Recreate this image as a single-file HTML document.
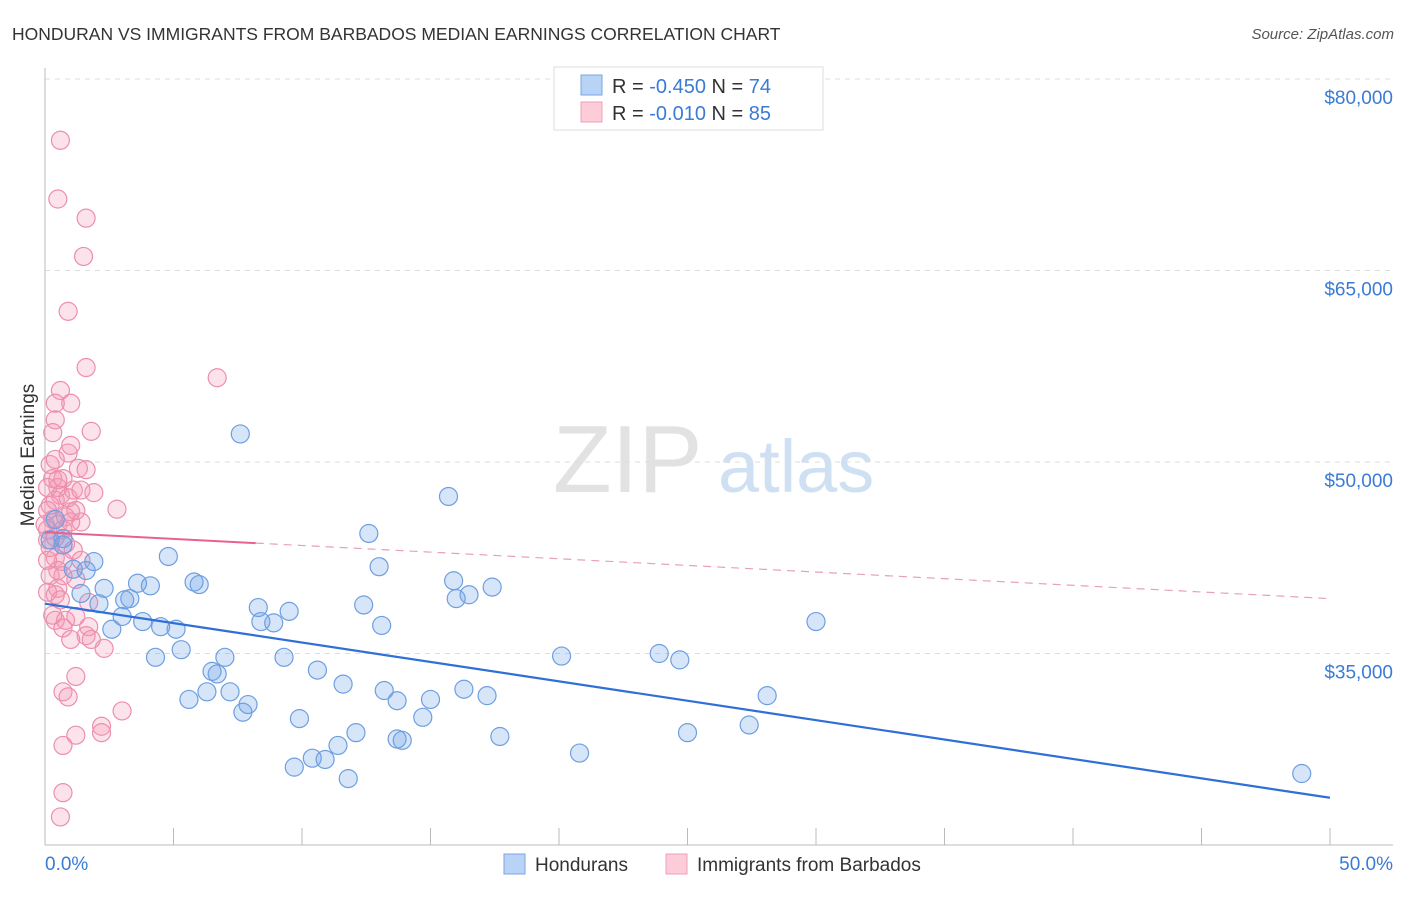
<!DOCTYPE html>
<html><head><meta charset="utf-8"><style>
body{margin:0;background:#fff;font-family:"Liberation Sans",sans-serif;}
svg text{font-family:"Liberation Sans",sans-serif;}
</style></head><body>
<svg id="c" width="1406" height="892" viewBox="0 0 1406 892">
<text x="12" y="40" font-size="17.5" fill="#333">HONDURAN VS IMMIGRANTS FROM BARBADOS MEDIAN EARNINGS CORRELATION CHART</text>
<text x="1394" y="39" font-size="15" fill="#555" font-style="italic" text-anchor="end">Source: ZipAtlas.com</text>
<g>
<text x="553" y="492" font-family="Liberation Serif,serif" font-size="96" fill="#e2e2e2">ZIP</text>
<text x="718" y="492" font-size="74" fill="#cfe0f3">atlas</text>
</g>
<g id="grid"></g>
<g id="axes"></g>
<g id="pts"></g>
<g id="trend"></g>
<text transform="translate(34,455) rotate(-90)" font-size="19" fill="#333" text-anchor="middle">Median Earnings</text>
<g>
<rect x="554" y="67" width="269" height="63" fill="#fff" stroke="#ddd"/>
<rect x="581" y="75" width="21" height="20" fill="#b8d3f5" stroke="#7aa6e3"/>
<text x="612" y="93" font-size="20" fill="#333">R = <tspan fill="#3a7bd5">-0.450</tspan>   N = <tspan fill="#3a7bd5">74</tspan></text>
<rect x="581" y="102" width="21" height="20" fill="#fcccd9" stroke="#eba0b8"/>
<text x="612" y="120" font-size="20" fill="#333">R =  <tspan fill="#3a7bd5">-0.010</tspan>   N = <tspan fill="#3a7bd5">85</tspan></text>
</g>
<g>
<rect x="504" y="854" width="21" height="20" fill="#b8d3f5" stroke="#7aa6e3"/>
<text x="535" y="871" font-size="19" fill="#333">Hondurans</text>
<rect x="666" y="854" width="21" height="20" fill="#fcccd9" stroke="#eba0b8"/>
<text x="697" y="871" font-size="19" fill="#333">Immigrants from Barbados</text>
</g>
</svg>
<script>
const xTicks=[0,5,10,15,20,25,30,35,40,45,50];
const yTicks=[35000,50000,65000,80000];
const yTickLabels=["$35,000","$50,000","$65,000","$80,000"];
const hondX=[7.6,15.7,12.6,4.8,1.9,1.6,1.1,0.7,13.0,15.9,17.4,5.8,6.0,3.6,2.3,4.1,16.0,16.5,3.3,3.1,1.4,2.1,8.3,9.5,12.4,3.0,3.8,8.4,8.9,4.5,5.1,2.6,13.1,30.0,5.3,7.0,4.3,9.3,20.1,23.9,24.7,10.6,6.5,6.7,11.6,6.3,7.2,13.2,16.3,17.2,28.1,13.7,15.0,5.6,7.9,7.7,9.9,14.7,12.1,27.4,25.0,17.7,13.9,13.7,11.4,10.4,10.9,9.7,20.8,11.8,48.9,0.7,0.4,0.2];
const hondY=[52.2,47.3,44.4,42.6,42.2,41.5,41.6,44.0,41.8,40.7,40.2,40.6,40.4,40.5,40.1,40.3,39.3,39.6,39.3,39.2,39.7,38.9,38.6,38.3,38.8,37.9,37.5,37.5,37.4,37.1,36.9,36.9,37.2,37.5,35.3,34.7,34.7,34.7,34.8,35.0,34.5,33.7,33.6,33.4,32.6,32.0,32.0,32.1,32.2,31.7,31.7,31.3,31.4,31.4,31.0,30.4,29.9,30.0,28.8,29.4,28.8,28.5,28.2,28.3,27.8,26.8,26.7,26.1,27.2,25.2,25.6,43.5,45.5,43.9];
const barbX=[0.6,0.5,1.6,1.5,0.9,1.6,6.7,0.6,1.0,0.4,0.4,1.8,0.3,0.9,1.3,0.3,2.8,1.9,1.1,0.5,0.6,0.4,0.9,0.2,0.8,1.0,0.3,0.5,1.4,0.7,0.1,0.4,0.8,0.2,1.1,0.4,0.7,1.4,0.5,0.2,0.7,1.2,0.5,1.7,0.6,0.1,0.4,0.8,1.2,0.7,1.7,1.6,2.3,1.2,0.7,0.9,3.0,2.2,2.2,0.7,1.2,0.7,0.6,0.1,0.2,0.1,0.7,0.1,1.0,1.4,0.1,1.6,0.4,1.0,0.3,0.4,1.8,1.0,0.5,0.0,1.2];
const barbY=[75.2,70.6,69.1,66.1,61.8,57.4,56.6,55.6,54.6,54.6,53.3,52.4,52.3,50.7,49.5,48.7,46.3,47.6,47.8,48.0,47.4,47.0,47.2,46.6,45.7,45.3,45.5,45.1,45.3,44.7,44.7,44.1,43.6,43.3,43.1,42.5,42.2,42.3,41.5,41.1,41.1,40.8,40.1,39.0,39.2,39.8,37.6,37.6,37.9,37.0,37.1,36.4,35.4,33.2,32.0,31.6,30.5,29.3,28.8,27.8,28.6,24.1,22.2,42.3,49.8,48.0,48.7,46.2,46.1,47.8,43.9,49.4,50.2,51.3,38.0,39.6,36.1,36.1,48.6,45.1,46.2];
const hondTrend=[38.9,23.7];
const barbTrend=[44.5,39.3];
const barbSolidEnd=8.2;

const NS="http://www.w3.org/2000/svg";
const X0=45,X1=1330,Y80=79,PXK=191.5/15;
const sx=v=>X0+(v/50)*(X1-X0);
const sy=k=>Y80+(80-k)*PXK;
function mk(tag,attrs,parent){const e=document.createElementNS(NS,tag);for(const k in attrs)e.setAttribute(k,attrs[k]);document.getElementById(parent).appendChild(e);return e;}

yTicks.forEach((t,i)=>{
 const y=sy(t/1000);
 const g=mk('line',{x1:45,x2:1393,y1:y,y2:y,stroke:'#ddd','stroke-dasharray':'5,5'},'grid');
 
 
 const tx=mk('text',{x:1393,y:y+25,'font-size':19,fill:'#3a7bd5','text-anchor':'end'},'grid');
 tx.textContent=yTickLabels[i];
 
 
});
let a=mk('line',{x1:45,x2:45,y1:68,y2:845,stroke:'#bbb'},'axes');


a=mk('line',{x1:45,x2:1393,y1:845,y2:845,stroke:'#bbb'},'axes');


xTicks.forEach(t=>{
 const x=sx(t);
 const l=mk('line',{x1:x,x2:x,y1:828,y2:845,stroke:'#bbb'},'axes');
 
 
});
let t0=mk('text',{x:45,y:870,'font-size':19,fill:'#3a7bd5'},'axes');t0.textContent=xTicks[0].toFixed(1)+'%';


let t1=mk('text',{x:1393,y:870,'font-size':19,fill:'#3a7bd5','text-anchor':'end'},'axes');t1.textContent=xTicks[xTicks.length-1].toFixed(1)+'%';



barbX.forEach((v,i)=>{
 const c=mk('circle',{cx:sx(v),cy:sy(barbY[i]),r:9,fill:'rgba(243,150,180,0.28)',stroke:'#ec8fae','stroke-width':1.2},'pts');
 
 
});
hondX.forEach((v,i)=>{
 const c=mk('circle',{cx:sx(v),cy:sy(hondY[i]),r:9,fill:'rgba(110,160,230,0.28)',stroke:'#6d9fe0','stroke-width':1.2},'pts');
 
 
});
let l1=mk('line',{x1:sx(0),y1:sy(hondTrend[0]),x2:sx(50),y2:sy(hondTrend[1]),stroke:'#2f6fd6','stroke-width':2.2},'trend');


const pk=x=>barbTrend[0]+(barbTrend[1]-barbTrend[0])*x/50;
let l2=mk('line',{x1:sx(0),y1:sy(pk(0)),x2:sx(barbSolidEnd),y2:sy(pk(barbSolidEnd)),stroke:'#e8628f','stroke-width':2},'trend');


let l3=mk('line',{x1:sx(barbSolidEnd),y1:sy(pk(barbSolidEnd)),x2:sx(50),y2:sy(pk(50)),stroke:'#e8a0b8','stroke-width':1.2,'stroke-dasharray':'8,6'},'trend');


</script>
</body></html>
